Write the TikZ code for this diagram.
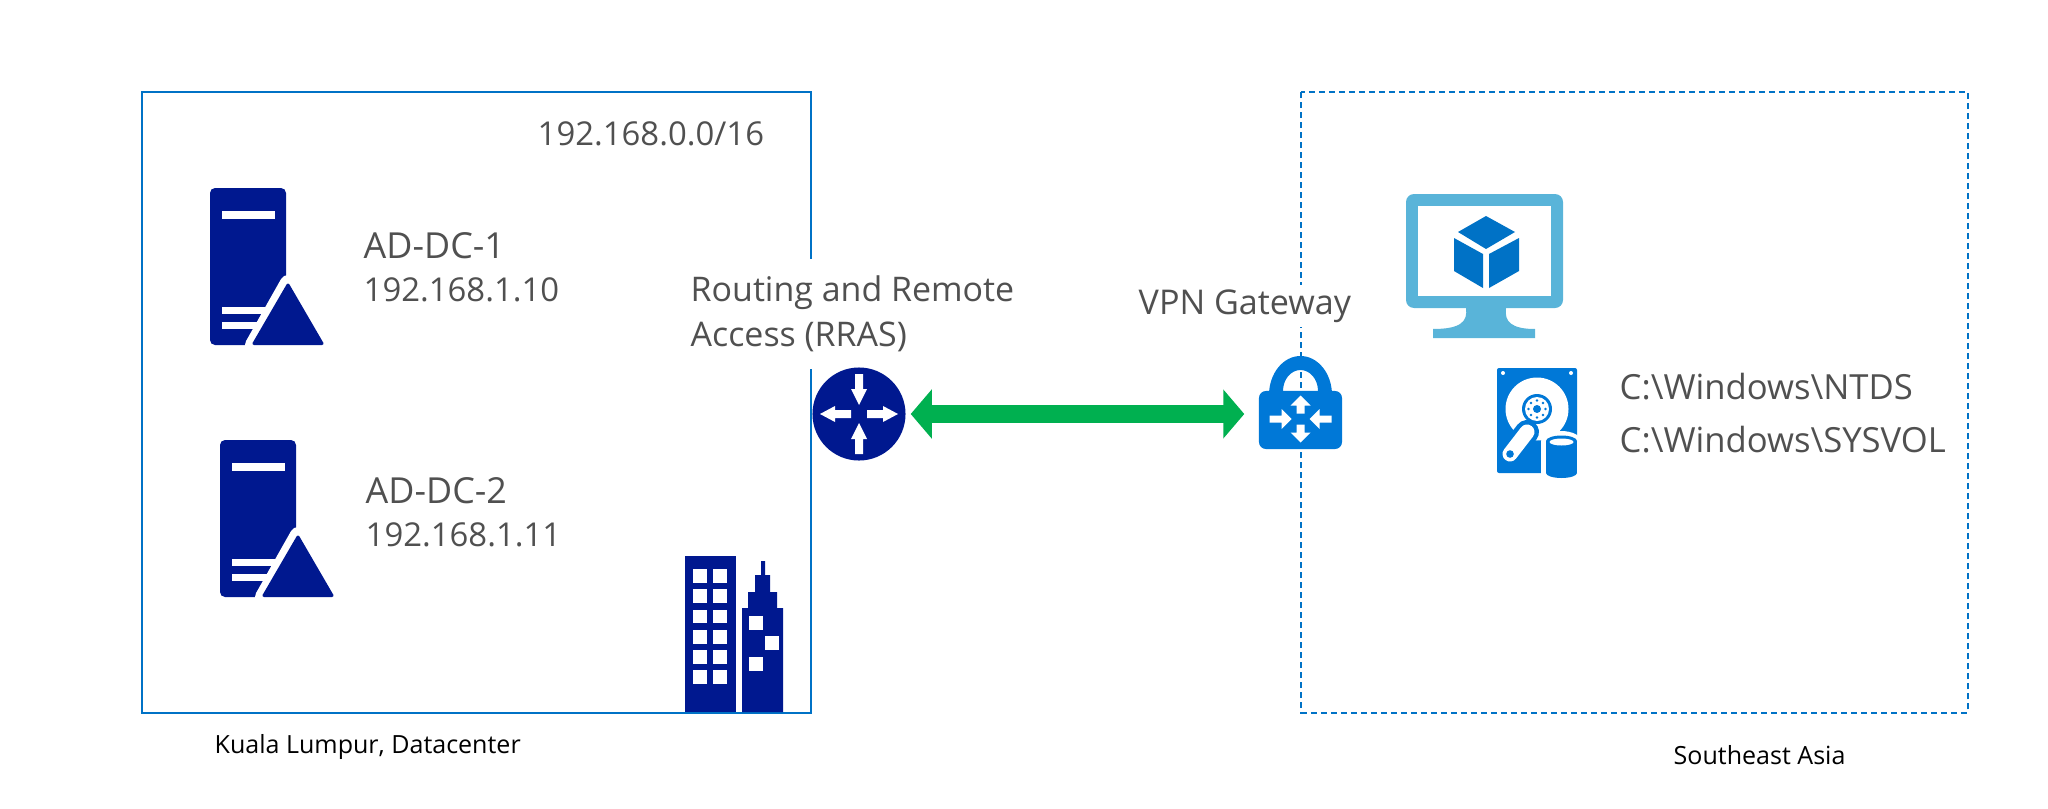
\documentclass[tikz,border=0pt]{standalone}
\usepackage{fontspec}
\setmainfont{Open Sans}
\usepackage{xcolor}
\usetikzlibrary{arrows.meta}

\definecolor{sitenavy}{HTML}{00188F}
\definecolor{azureblue}{HTML}{0078D7}
\definecolor{boxblue}{HTML}{0072C6}
\definecolor{screenblue}{HTML}{59B4D9}
\definecolor{linkgreen}{HTML}{00B050}
\definecolor{labelgrey}{HTML}{505050}

\tikzset{
  sitebox/.style={draw=boxblue,line width=0.02cm},
  cloudbox/.style={sitebox,dash pattern=on 0.06cm off 0.04cm},
  biglabel/.style={anchor=west,inner sep=0,text=labelgrey,font=\fontsize{9.65}{12.8}\selectfont,align=left},
  iplabel/.style={biglabel,font=\fontsize{9.35}{12.8}\selectfont},
  hostlabel/.style={biglabel,font=\fontsize{10.2}{12.8}\selectfont},
  pathlabel/.style={biglabel,font=\fontsize{9.85}{12.8}\selectfont},
  smalllabel/.style={anchor=west,inner sep=0,text=black,font=\fontsize{7.12}{9}\selectfont},
  linkarrow/.style={linkgreen,line width=0.17cm,
    {Triangle[length=0.21cm,width=0.48cm]}-{Triangle[length=0.21cm,width=0.48cm]}},
}

% block arrow along +x: from, to, head length, shaft half width, head half width
\newcommand{\blockarrow}[5]{
\fill[white] (#1,-#4)--(#2-#3,-#4)--(#2-#3,-#5)--(#2,0)--(#2-#3,#5)--(#2-#3,#4)--(#1,#4)--cycle;
}

\newcommand{\servericon}[1]{
\begin{scope}[shift={#1}]
\fill[sitenavy,rounded corners=0.05cm] (210,188) rectangle (286,345);
\fill[white] (222,211) rectangle (275,219);
\fill[white] (222,307) rectangle (275,314);
\fill[white] (222,322) rectangle (275,329);
\fill[white,draw=white,line width=0.16cm,line join=round] (288,283)--(253,345)--(323,345)--cycle;
\clip (200,345.5) rectangle (335,270);
\filldraw[sitenavy,line width=0.03cm,line join=round] (288,285)--(254,343.5)--(322,343.5)--cycle;
\end{scope}
}

\begin{document}
\begin{tikzpicture}[x=0.01cm,y=-0.01cm]
\useasboundingbox (0,0) rectangle (2048,809);
\draw[sitebox] (142,92) rectangle (811,712.5);
\draw[cloudbox] (1301,92) rectangle (1968,712.5);

% labels
\node[iplabel] (range) at (537,134) {192.168.0.0/16};
\node[hostlabel] (dcone) at (363,246) {AD-DC-1};
\node[iplabel] (dconeip) at (363,290) {192.168.1.10};
\node[hostlabel] (dctwo) at (365,491) {AD-DC-2};
\node[iplabel] (dctwoip) at (365,535) {192.168.1.11};
\node[biglabel,fill=white,minimum height=1.1cm] (rras) at (690,314) {Routing and Remote\\Access (RRAS)};
\node[biglabel,fill=white,minimum height=0.42cm,font=\fontsize{9.7}{12.8}\selectfont] (vpn) at (1138,306) {VPN Gateway};
\node[pathlabel] (ntds) at (1619,387) {C:\textbackslash Windows\textbackslash NTDS};
\node[pathlabel] (sysvol) at (1619,440) {C:\textbackslash Windows\textbackslash SYSVOL};
\node[smalllabel] (kl) at (214,747) {Kuala Lumpur, Datacenter};
\node[smalllabel] (sea) at (1673,755) {Southeast Asia};

% domain controllers
\servericon{(0,0)}
\servericon{(10,252)}

% buildings
\fill[sitenavy] (685,556) rectangle (736,712);
\foreach \y in {569,589.3,609.6,630,650.3,670.4} {
  \fill[white] (693,\y) rectangle ++(14,13.5);
  \fill[white] (713,\y) rectangle ++(14,13.5);
}
\fill[sitenavy] (742,712)--(742,608)--(748,608)--(748,592)--(755,592)--(755,575)--(761,575)--(761,561)--(765,561)--(765,575)--(770,575)--(770,592)--(777,592)--(777,608)--(783,608)--(783,712)--cycle;
\fill[white] (749,616) rectangle ++(13.5,13.5);
\fill[white] (765,636) rectangle ++(13.5,13.5);
\fill[white] (749,657) rectangle ++(13.5,13.5);

% router and gateway
\node[circle,fill=sitenavy,minimum size=0.93cm,inner sep=0] (router) at (859,414) {};
\foreach \a in {0,180} {
  \begin{scope}[shift={(router.center)},rotate=\a]
  \blockarrow{8}{39}{15}{4}{8}
  \end{scope}
  \begin{scope}[shift={(router.center)},rotate=\a+90]
  \blockarrow{40}{9}{-16}{4}{8}
  \end{scope}
}
\fill[azureblue,even odd rule] (1269,395) arc (180:360:31.5 and 39) -- cycle
  (1283,391) arc (180:360:17.5 and 21) -- cycle;
\node[rectangle,rounded corners=0.07cm,fill=azureblue,minimum width=0.83cm,minimum height=0.58cm,inner sep=0] (gateway) at (1300.5,420) {};
\begin{scope}[shift={(1300.5,419)}]
\foreach \a in {90,270} {
  \begin{scope}[rotate=\a]
  \blockarrow{5.5}{23.5}{10}{4}{10}
  \end{scope}
}
\foreach \a in {0,180} {
  \begin{scope}[rotate=\a]
  \blockarrow{31}{9}{-10}{3.5}{10}
  \end{scope}
}
\end{scope}
\coordinate (gatewayport) at (gateway.west |- router);
\draw[linkarrow,shorten <=0.045cm,shorten >=0.14cm] (router.east) -- (gatewayport);

% virtual machine
\fill[screenblue] (1466,300)--(1506,300)--(1506,308) .. controls (1504,322) and (1512,329) .. (1535,329)--(1535,338)--(1433,338)--(1433,329) .. controls (1460,329) and (1468,322) .. (1466,308)--cycle;
\fill[screenblue,rounded corners=0.08cm] (1406,194) rectangle (1563,308);
\fill[white] (1418,206) rectangle (1551,296);
\fill[boxblue] (1486,216)--(1515,232)--(1486,249)--(1458,232)--cycle;
\fill[boxblue] (1454,238)--(1483,254)--(1483,288)--(1454,271)--cycle;
\fill[boxblue] (1489,254)--(1519,238)--(1519,271)--(1489,288)--cycle;

% disk
\fill[azureblue,rounded corners=0.02cm] (1497,368) rectangle (1577,473);
\fill[white] (1503,373) circle (2);
\fill[white] (1571,373) circle (2);
\fill[white] (1537,409) circle (31.5);
\fill[azureblue] (1537,409) circle (15);
\fill[white] (1537,409) circle (12);
\foreach \a in {0,45,...,315} {
  \fill[azureblue] (1537,409) ++(\a:8.5) circle (1.3);
}
\fill[azureblue] (1537,409) circle (4);
\draw[azureblue,line width=0.24cm,line cap=round] (1510,454)--(1527,432);
\draw[white,line width=0.15cm,line cap=round] (1510,454)--(1527,432);
\fill[azureblue] (1510,454) circle (3.8);
\fill[white] (1541,441) rectangle (1581,480);
\fill[white] (1561,441) ellipse [x radius=20,y radius=10];
\fill[azureblue] (1546,441) rectangle (1577,473);
\fill[azureblue] (1546,473) arc (180:0:15.5 and 5);
\fill[azureblue] (1561.5,441) ellipse [x radius=15.5,y radius=5.5];
\fill[white] (1561.5,442) ellipse [x radius=12,y radius=3.5];
\end{tikzpicture}
\end{document}
